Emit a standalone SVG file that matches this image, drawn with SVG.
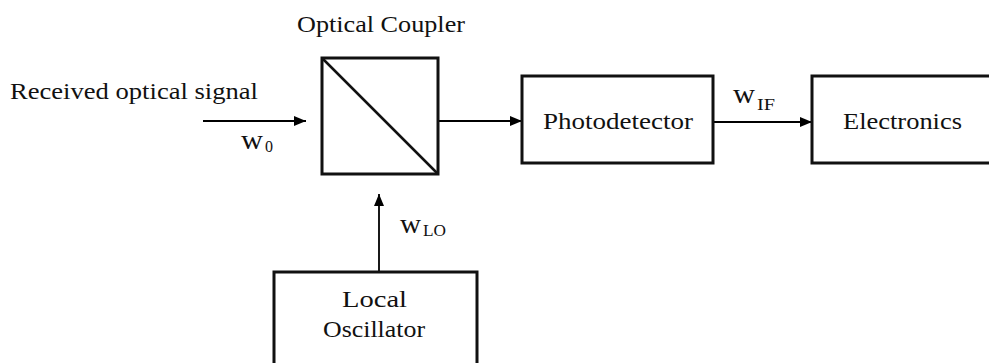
<svg xmlns="http://www.w3.org/2000/svg" width="989" height="363" viewBox="0 0 989 363">
<defs>
<marker id="ah" markerWidth="12" markerHeight="10" refX="12" refY="5" orient="auto" markerUnits="userSpaceOnUse">
<path d="M0,0 L12,5 L0,10 Z" fill="#000"/>
</marker>
<style>
.box{fill:#fff;stroke:#111;stroke-width:3}
.ln{stroke:#000;stroke-width:1.8;fill:none}
.t{font-family:"Liberation Serif","Times New Roman",serif;font-size:24px;fill:#111}
.w{font-family:"Liberation Serif","Times New Roman",serif;font-size:28px;fill:#111}
.s{font-family:"Liberation Serif","Times New Roman",serif;font-size:17px;fill:#111}
</style>
</defs>
<rect width="989" height="363" fill="#fff"/>
<g id="connectors">
<line class="ln" x1="203" y1="121" x2="306" y2="121" marker-end="url(#ah)"/>
<line class="ln" x1="438" y1="121" x2="522" y2="121" marker-end="url(#ah)"/>
<line class="ln" x1="713" y1="122" x2="812" y2="122" marker-end="url(#ah)"/>
<line class="ln" x1="379" y1="272" x2="379" y2="194" marker-end="url(#ah)"/>
<text class="w" x="241" y="149" textLength="22" lengthAdjust="spacingAndGlyphs">w</text>
<text class="s" x="265" y="152" textLength="8" lengthAdjust="spacingAndGlyphs">0</text>
<text class="w" x="733" y="103" textLength="22" lengthAdjust="spacingAndGlyphs">w</text>
<text class="s" x="757" y="110" textLength="18" lengthAdjust="spacingAndGlyphs">IF</text>
<text class="w" x="400" y="233" textLength="21" lengthAdjust="spacingAndGlyphs">w</text>
<text class="s" x="423" y="236" textLength="23" lengthAdjust="spacingAndGlyphs">LO</text>
</g>
<g id="input-label">
<text class="t" x="10" y="99" textLength="248" lengthAdjust="spacingAndGlyphs">Received optical signal</text>
</g>
<g id="coupler">
<text class="t" x="297" y="32" textLength="168" lengthAdjust="spacingAndGlyphs">Optical Coupler</text>
<rect class="box" x="322" y="58" width="116" height="116"/>
<line x1="322" y1="58" x2="438" y2="174" stroke="#111" stroke-width="2.5"/>
</g>
<g id="photodetector">
<rect class="box" x="522" y="76" width="191" height="87"/>
<text class="t" x="543" y="129" textLength="150" lengthAdjust="spacingAndGlyphs">Photodetector</text>
</g>
<g id="electronics">
<rect class="box" x="812" y="76" width="190" height="87"/>
<text class="t" x="843" y="129" textLength="119" lengthAdjust="spacingAndGlyphs">Electronics</text>
</g>
<g id="local-oscillator">
<rect class="box" x="274" y="272" width="203" height="100"/>
<text class="t" x="342" y="307" textLength="65" lengthAdjust="spacingAndGlyphs">Local</text>
<text class="t" x="323" y="337" textLength="102" lengthAdjust="spacingAndGlyphs">Oscillator</text>
</g>
</svg>
